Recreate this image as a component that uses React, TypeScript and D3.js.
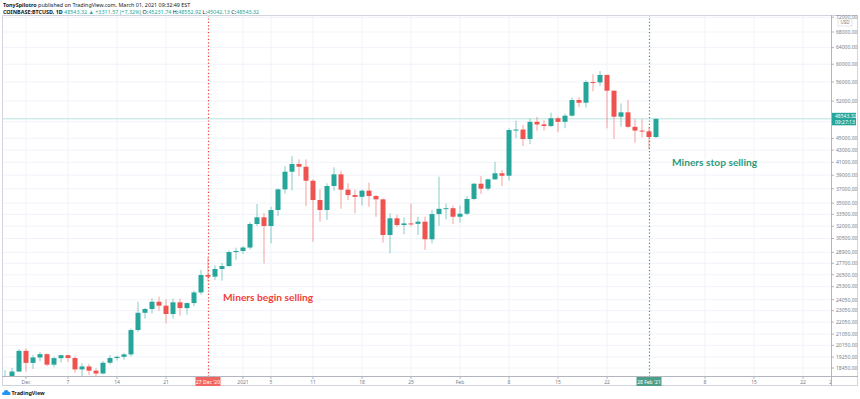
import React from "react";
import * as d3 from "d3";

// daily candles, Nov 28 2020 -> Mar 1 2021 (COINBASE:BTCUSD 1D)
const firstDay = new Date(Date.UTC(2020, 10, 28));

const opens = [
  17150, 17750, 18200,
  19720, 18820, 19220, 19470, 18690, 19170, 19390, 19180, 18350, 18560, 18260, 18060, 18830, 19180, 19270, 19450,
  21380, 22860, 23200, 23860, 23500, 22750, 23810, 23280, 23740, 24740, 26470, 26300, 27100, 27410, 28940,
  29060, 29450, 32270, 33120, 32020, 34070, 36920, 39530, 40730, 40300, 38170, 35420, 34070, 37400, 39130,
  36870, 36110, 35860, 36730, 35970, 35510, 30920, 32990, 32140, 32340, 32290, 32560, 30410, 33540, 34230, 34310,
  33190, 33580, 35560, 37730, 37010, 38380, 39290, 38920, 46480, 46560, 44880, 47980, 47500, 47200, 48640,
  47980, 49130, 52220, 51670, 56000, 55920, 57560, 54140, 48940, 49780, 47060, 46380, 46230,
  45231.74,
];
const highs = [
  18300, 18450, 19860,
  19910, 19380, 19650, 19520, 19280, 19420, 19420, 19320, 18790, 18750, 18430, 18950, 19420, 19350, 19570, 21500,
  23860, 23300, 24180, 24330, 24100, 24140, 24140, 23790, 24910, 26990, 28400, 27500, 27770, 29130, 29430,
  29630, 32500, 34870, 33670, 34500, 37030, 40420, 42010, 41470, 41470, 38400, 36900, 37800, 40210, 39690,
  37800, 36870, 36870, 37880, 36110, 35650, 33640, 33440, 33100, 34940, 33190, 33190, 34070, 38770, 34940, 34680,
  34680, 35960, 37860, 38880, 38480, 41080, 39800, 46790, 48190, 47390, 48610, 48910, 48270, 49710, 48970,
  49500, 52770, 52770, 56400, 57700, 58440, 57600, 54250, 51540, 52220, 48460, 48460, 47060,
  48552.92,
];
const lows = [
  16900, 17550, 18180,
  18200, 18380, 18940, 18580, 18500, 18860, 18900, 18120, 17880, 17950, 17880, 18010, 18710, 19000, 19060, 19300,
  21230, 22350, 22800, 23050, 21950, 22350, 22600, 22700, 23450, 24520, 25850, 25960, 25900, 27330, 28070,
  28740, 29230, 32020, 27700, 29940, 33280, 36300, 36750, 38880, 34600, 30130, 32560, 32800, 36700, 34230,
  35420, 33640, 34680, 34500, 33180, 30010, 28800, 31900, 31000, 31960, 30920, 29170, 29940, 32020, 32860, 32270,
  32450, 33400, 35370, 36250, 36730, 38280, 37400, 38170, 45010, 43680, 44000, 46380, 46380, 47050, 46080,
  46800, 48970, 50820, 50710, 54000, 55130, 46790, 44880, 47060, 46790, 44240, 45140, 43100,
  45042.13,
];
const closes = [
  17750, 18200, 19720,
  18820, 19220, 19470, 18690, 19170, 19390, 19180, 18350, 18560, 18260, 18060, 18830, 19180, 19270, 19450, 21380,
  22860, 23200, 23860, 23500, 22750, 23810, 23280, 23740, 24740, 26470, 26300, 27100, 27410, 28940, 29060,
  29450, 32270, 33120, 32020, 34070, 36920, 39530, 40730, 40300, 38170, 35420, 34070, 37400, 39130, 36870,
  36110, 35860, 36730, 35970, 35510, 30920, 32990, 32140, 32340, 32290, 32560, 30410, 33540, 34230, 34310, 33190,
  33580, 35560, 37730, 37010, 38380, 39290, 38920, 46480, 46560, 44880, 47980, 47500, 47200, 48640, 47980,
  49130, 52220, 51670, 56000, 55920, 57560, 54140, 48940, 49780, 47060, 46380, 46230, 45231.75,
  48543.32,
];

const priceTicks = [
  18450, 19250, 20150, 21050, 22050, 23050, 24050, 25300, 26500, 27700, 28900, 30500, 32000, 33500,
  35000, 37000, 39000, 41000, 43000, 45000, 48000, 52000, 56000, 60000, 64000, 68000, 72000,
];

const timeTickDates = [
  "2020-12-01", "2020-12-07", "2020-12-14", "2020-12-21", "2021-01-01", "2021-01-05", "2021-01-11",
  "2021-01-18", "2021-01-25", "2021-02-01", "2021-02-08", "2021-02-15", "2021-02-22", "2021-03-08",
  "2021-03-15", "2021-03-22", "2021-03-29",
];
const timeTickLabels = ["Dec", "7", "14", "21", "2021", "5", "11", "18", "25", "Feb", "8", "15", "22", "8", "15", "22", "29"];

const markerDates = ["2020-12-27", "2021-02-28"];
const markerLabels = ["27 Dec '20", "28 Feb '21"];
const markerNotes = ["Miners begin selling", "Miners stop selling"];

const UP = "#26a69a";
const DOWN = "#ef5350";
const GRID = "#f0f3fa";
const AXIS_TEXT = "#787b86";
const FONT = "'Noto Sans', Roboto, sans-serif";

const W = 860;
const H = 399;
const frame = { left: 2, right: 858, top: 15, bottom: 386 };
const plotRight = 831;
const plotBottom = 376.5;

const App: React.FC = () => {
  const days = opens.map((_, i) => d3.utcDay.offset(firstDay, i));
  const parse = d3.utcParse("%Y-%m-%d");

  const x = d3
    .scaleUtc()
    .domain([parse("2020-12-01")!, parse("2021-02-28")!])
    .range([26, 649]);
  const y = d3.scaleLog().domain([18450, 68000]).range([368, 32]);
  const bodyW = 5;
  const fmt = d3.format(".2f");
  const last = closes[closes.length - 1];
  const lastY = y(last);

  const markerColors = ["#f23f3a", "#2e9a7c"];

  return (
    <div style={{ position: "absolute", left: 0, top: 0 }}>
      <svg width={W} height={H} style={{ display: "block", background: "#fff" }}>
        <defs>
          <clipPath id="plot">
            <rect x={frame.left} y={frame.top} width={plotRight - frame.left} height={plotBottom - frame.top} />
          </clipPath>
          <clipPath id="priceAxis">
            <rect x={plotRight} y={frame.top} width={frame.right - plotRight} height={plotBottom - frame.top} />
          </clipPath>
          <clipPath id="timeAxis">
            <rect x={frame.left} y={plotBottom} width={plotRight - frame.left} height={frame.bottom - plotBottom} />
          </clipPath>
        </defs>

        {/* header */}
        <text x={3} y={7} fontFamily={FONT} fontSize={5.4} fill="#131722">
          <tspan fontWeight="bold">TonySpilotro</tspan>
          <tspan> published on TradingView.com, March 01, 2021 09:32:49 EST</tspan>
        </text>
        <text x={3} y={13.5} fontFamily={FONT} fontSize={5.4} fill="#131722">
          <tspan fontWeight="bold">COINBASE:BTCUSD, 1D </tspan>
          <tspan fill={UP}>48543.32 ▲ +3311.57 (+7.32%) </tspan>
          <tspan>O:</tspan>
          <tspan fill={UP}>45231.74 </tspan>
          <tspan>H:</tspan>
          <tspan fill={UP}>48552.92 </tspan>
          <tspan>L:</tspan>
          <tspan fill={UP}>45042.13 </tspan>
          <tspan>C:</tspan>
          <tspan fill={UP}>48543.32</tspan>
        </text>

        {/* grid */}
        <g clipPath="url(#plot)">
          {priceTicks.map(p => (
            <line key={p} x1={frame.left} x2={plotRight} y1={y(p)} y2={y(p)} stroke={GRID} strokeWidth={1} />
          ))}
          {timeTickDates.map(d => (
            <line key={d} x1={x(parse(d)!)} x2={x(parse(d)!)} y1={frame.top} y2={plotBottom} stroke={GRID} strokeWidth={1} />
          ))}
          <line x1={frame.left} x2={plotRight} y1={lastY} y2={lastY} stroke="#b7e3de" strokeWidth={1} />
        </g>

        {/* candles */}
        <g clipPath="url(#plot)">
          {days.map((d, i) => {
            const up = closes[i] >= opens[i];
            const c = up ? UP : DOWN;
            const cx = x(d);
            const top = y(Math.max(opens[i], closes[i]));
            const bot = y(Math.min(opens[i], closes[i]));
            return (
              <g key={i}>
                <line x1={cx} x2={cx} y1={y(highs[i])} y2={y(lows[i])} stroke={c} strokeOpacity={0.55} strokeWidth={1} />
                <rect x={cx - bodyW / 2} y={top} width={bodyW} height={Math.max(1, bot - top)} fill={c} />
              </g>
            );
          })}
        </g>

        {/* marker lines and notes */}
        {markerDates.map((d, i) => {
          const mx = Math.round(x(parse(d)!)) + 0.5;
          return (
            <line key={d} x1={mx} x2={mx} y1={frame.top} y2={plotBottom} stroke={markerColors[i]}
              strokeWidth={1.2} strokeDasharray="1.2 2.2" />
          );
        })}
        <text x={x(parse(markerDates[0])!) + 15} y={301} fontFamily="Lato, 'Open Sans', sans-serif" fontWeight="bold"
          fontSize={10.2} fill={markerColors[0]}>{markerNotes[0]}</text>
        <text x={x(parse(markerDates[1])!) + 23} y={166} fontFamily="Lato, 'Open Sans', sans-serif" fontWeight="bold"
          fontSize={10.2} fill={markerColors[1]}>{markerNotes[1]}</text>

        {/* frame & axes */}
        <rect x={frame.left + 0.5} y={frame.top + 0.5} width={frame.right - frame.left - 1}
          height={frame.bottom - frame.top - 1} fill="none" stroke="#d1d4dc" />
        <line x1={plotRight + 0.5} x2={plotRight + 0.5} y1={frame.top} y2={frame.bottom} stroke="#b2b5be" />
        <line x1={frame.left} x2={frame.right} y1={plotBottom} y2={plotBottom} stroke="#b2b5be" />

        {/* price axis */}
        <g clipPath="url(#priceAxis)" fontFamily={FONT} fontSize={5} fill={AXIS_TEXT}>
          {priceTicks.map(p => (
            <g key={p}>
              <line x1={plotRight} x2={plotRight + 3} y1={y(p)} y2={y(p)} stroke="#b2b5be" />
              {Math.abs(y(p) - lastY) > 7 && <text x={836} y={y(p) + 1.8}>{fmt(p)}</text>}
            </g>
          ))}
        </g>
        <rect x={838} y={19} width={14} height={7} fill="#fff" stroke="#d1d4dc" strokeWidth={0.6} />
        <text x={845} y={24} textAnchor="middle" fontFamily={FONT} fontSize={4.6} fill={AXIS_TEXT}>USD</text>
        <rect x={plotRight + 1} y={lastY - 6} width={24} height={12.5} fill={UP} />
        <text x={835} y={lastY - 0.8} fontFamily={FONT} fontSize={5} fill="#fff">{fmt(last)}</text>
        <text x={835} y={lastY + 4.8} fontFamily={FONT} fontSize={5} fill="#fff">09:27:13</text>

        {/* time axis */}
        <g clipPath="url(#timeAxis)" fontFamily={FONT} fontSize={5} fill={AXIS_TEXT}>
          {timeTickDates.map((d, i) => {
            const tx = Math.min(x(parse(d)!), plotRight + 1);
            return (
              <g key={d}>
                <line x1={x(parse(d)!)} x2={x(parse(d)!)} y1={plotBottom} y2={plotBottom + 2.5} stroke="#b2b5be" />
                <text x={tx} y={383.5} textAnchor="middle">{timeTickLabels[i]}</text>
              </g>
            );
          })}
        </g>
        {markerDates.map((d, i) => {
          const mx = x(parse(d)!);
          return (
            <g key={d}>
              <rect x={mx - 12.5} y={plotBottom + 0.5} width={25} height={9} fill={i === 0 ? "#f26661" : "#4f9e88"} />
              <text x={mx} y={383.5} textAnchor="middle" fontFamily={FONT} fontSize={5} fill="#fff">{markerLabels[i]}</text>
            </g>
          );
        })}

        {/* TradingView logo */}
        <g transform="translate(2,389)">
          <path d="M1 6 Q0 6 0 4.6 Q0 3.2 1.6 3.2 Q2 1 4.2 1 Q6.2 1 6.6 2.8 Q8.6 2.8 8.6 4.5 Q8.6 6 7.2 6 Z" fill="#2196f3" />
        </g>
        <text x={11.5} y={394.5} fontFamily={FONT} fontSize={5.4} fontWeight="bold" fill="#131722">TradingView</text>
      </svg>
    </div>
  );
};

export default App;
